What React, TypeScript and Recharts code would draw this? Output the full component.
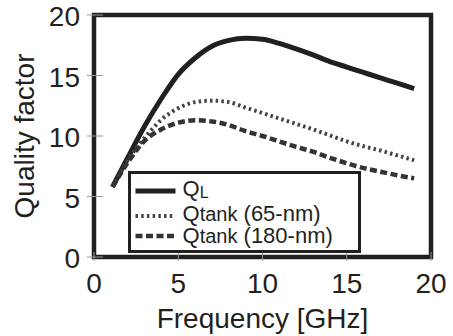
import { LineChart, Line, XAxis, YAxis, ReferenceArea, Legend } from "recharts"

const freq = [1.1, 2, 3, 4, 5, 6, 7, 8, 9, 10, 11, 12, 13, 14, 15, 16, 17, 18, 19]
const qL = [5.8, 8.2, 10.8, 13.1, 15.1, 16.45, 17.42, 17.9, 18.07, 18.0, 17.65, 17.2, 16.7, 16.15, 15.7, 15.25, 14.8, 14.37, 13.92]
const qTank65 = [5.8, 8.0, 9.85, 11.35, 12.3, 12.8, 12.92, 12.8, 12.35, 11.9, 11.45, 11.0, 10.55, 10.05, 9.55, 9.15, 8.8, 8.4, 8.0]
const qTank180 = [5.8, 7.8, 9.6, 10.55, 11.1, 11.3, 11.2, 10.9, 10.4, 10.0, 9.55, 9.1, 8.7, 8.2, 7.75, 7.35, 7.05, 6.75, 6.5]
const xTicks = [0, 5, 10, 15, 20]
const yTicks = [0, 5, 10, 15, 20]

const data = freq.map((f, i) => ({ f, qL: qL[i], q65: qTank65[i], q180: qTank180[i] }))

const font = "'Liberation Sans', Arial, sans-serif"
const ink = "#231f20"

const series = [
  { key: "qL", sub: "L", rest: "", color: ink, width: 5, dash: undefined as string | undefined },
  { key: "q65", sub: "tank", rest: " (65-nm)", color: "#444", width: 4, dash: "2.5 3.2" },
  { key: "q180", sub: "tank", rest: " (180-nm)", color: "#333", width: 4.5, dash: "7 3.5" },
]

function YTick(props: any) {
  const { x, y, payload } = props
  const ax = x + 14
  return (
    <g>
      <line x1={ax - 7} x2={ax + 9} y1={y} y2={y} stroke="#999" strokeWidth={1} />
      <text x={x} y={y + 11} textAnchor="end" fontSize={28} fontFamily={font} fill={ink}>
        {payload.value}
      </text>
    </g>
  )
}

function XTick(props: any) {
  const { x, y, payload } = props
  const ay = y - 16
  return (
    <g>
      <line x1={x} x2={x} y1={ay - 5} y2={ay + 4} stroke="#999" strokeWidth={1} />
      <text x={x} y={y + 20} textAnchor="middle" fontSize={28} fontFamily={font} fill={ink}>
        {payload.value}
      </text>
    </g>
  )
}

function YTitle(props: any) {
  const vb = props.viewBox
  const cx = vb.x + 34
  const cy = vb.y + vb.height / 2
  return (
    <text x={cx} y={cy} transform={`rotate(-90, ${cx}, ${cy})`} textAnchor="middle" fontSize={28} fontFamily={font} fill={ink}>
      Quality factor
    </text>
  )
}

function XTitle(props: any) {
  const vb = props.viewBox
  return (
    <text x={vb.x + vb.width / 2} y={vb.y + 71} textAnchor="middle" fontSize={28} fontFamily={font} fill={ink}>
      Frequency [GHz]
    </text>
  )
}

function LegendBox() {
  const rowY = [20, 45, 65]
  const baseY = [25, 50, 71.5]
  return (
    <svg width={233} height={82} style={{ display: "block" }}>
      <rect x={1.5} y={1.5} width={230} height={79} fill="#fff" stroke={ink} strokeWidth={3} />
      {series.map((s, i) => (
        <g key={s.key}>
          <line x1={7.5} x2={47.5} y1={rowY[i]} y2={rowY[i]} stroke={s.color} strokeWidth={s.width} strokeDasharray={s.dash} />
          <text x={54.5} y={baseY[i]} fontFamily={font} fill={ink} fontSize={22}>
            Q
            <tspan fontSize={s.sub === "L" ? 16 : 20} dy={s.sub === "L" ? 2 : 0}>{s.sub}</tspan>
            {s.rest && <tspan fontSize={22} dy={0}>{s.rest}</tspan>}
          </text>
        </g>
      ))}
    </svg>
  )
}

export default function App() {
  return (
    <div style={{ position: "absolute", left: 0, top: 0 }}>
      <LineChart width={453} height={336} data={data} margin={{ top: 15, right: 22, bottom: 0, left: 0 }}>
        <XAxis
          dataKey="f"
          type="number"
          domain={[0, 20]}
          ticks={xTicks}
          height={79}
          axisLine={false}
          tickLine={false}
          tickSize={0}
          tickMargin={16}
          tick={<XTick />}
          label={<XTitle />}
        />
        <YAxis
          type="number"
          domain={[0, 20]}
          ticks={yTicks}
          width={94}
          axisLine={false}
          tickLine={false}
          tickSize={0}
          tickMargin={14}
          tick={<YTick />}
          label={<YTitle />}
        />
        <ReferenceArea x1={0} x2={20} y1={0} y2={20} fill="none" fillOpacity={0} stroke={ink} strokeWidth={4.5} />
        {series.map((s) => (
          <Line
            key={s.key}
            dataKey={s.key}
            type="monotone"
            stroke={s.color}
            strokeWidth={s.width}
            strokeDasharray={s.dash}
            dot={false}
            activeDot={false}
            isAnimationActive={false}
          />
        ))}
        <Legend
          layout="vertical"
          align="center"
          verticalAlign="middle"
          wrapperStyle={{ position: "absolute", left: 128, top: 171, width: 233, height: 82 }}
          content={() => <LegendBox />}
        />
      </LineChart>
    </div>
  )
}
